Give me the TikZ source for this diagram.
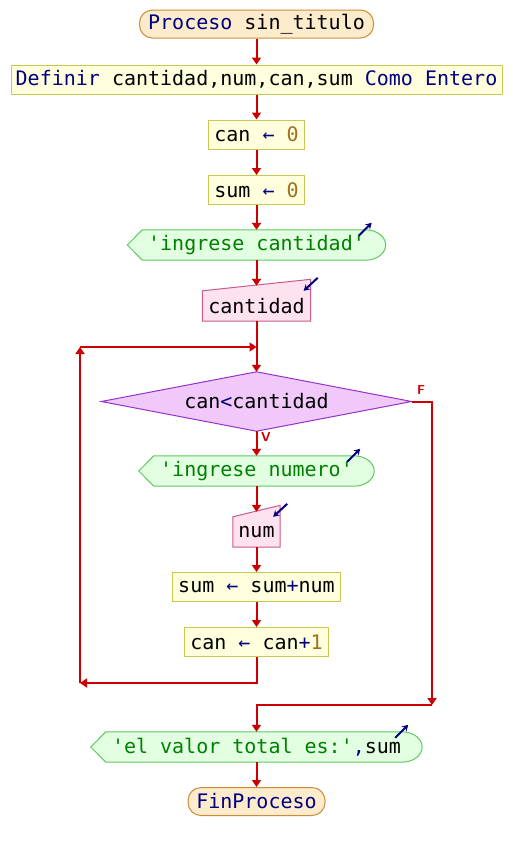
\documentclass[tikz,border=0pt]{standalone}
\usepackage{fontspec}
\setmonofont{DejaVu Sans Mono}
\usetikzlibrary{arrows.meta,backgrounds,calc}

\definecolor{flowred}{RGB}{204,0,0}
\definecolor{kwblue}{RGB}{0,0,128}
\definecolor{numbrown}{RGB}{160,112,32}
\definecolor{strgreen}{RGB}{0,128,0}
\definecolor{procfill}{RGB}{253,236,204}
\definecolor{procborder}{RGB}{204,140,60}
\definecolor{asgfill}{RGB}{255,255,221}
\definecolor{asgborder}{RGB}{200,200,80}
\definecolor{outfill}{RGB}{226,255,226}
\definecolor{outborder}{RGB}{96,200,96}
\definecolor{infill}{RGB}{255,226,240}
\definecolor{inborder}{RGB}{200,90,140}
\definecolor{condfill}{RGB}{240,200,250}
\definecolor{condborder}{RGB}{150,50,200}

\newcommand{\kw}[1]{\textcolor{kwblue}{#1}}
\newcommand{\nm}[1]{\textcolor{numbrown}{#1}}
\newcommand{\strtxt}[1]{\textcolor{strgreen}{#1}}
\newcommand{\sq}{\textquotesingle}
\newcommand{\asg}{\kw{←}}

\begin{document}
\begin{tikzpicture}[x=1pt,y=-1pt,>={Triangle[width=9pt,length=7pt]},
  font=\ttfamily\fontsize{20}{24}\selectfont,
  flow/.style={draw=flowred,line width=2pt},
  proc/.style={draw=procborder,fill=procfill,rounded corners=13pt,line width=1pt,minimum height=28pt,inner sep=0pt},
  assign/.style={draw=asgborder,fill=asgfill,line width=1pt,minimum height=29pt,inner sep=0pt},
  iobox/.style={inner sep=0pt,minimum height=30pt},
  outshape/.style={draw=outborder,fill=outfill,line width=1pt},
  inshape/.style={draw=inborder,fill=infill,line width=1pt},
  condshape/.style={draw=condborder,fill=condfill,line width=1pt},
  iomark/.style={draw=kwblue,line width=2pt,-{Stealth[length=6pt,width=7pt]}},
  flowlbl/.style={text=flowred,font=\sffamily\bfseries\fontsize{13}{15}\selectfont}]
  \useasboundingbox (0,0) rectangle (512,852);

  \node[proc,minimum width=234pt] (inicio) at (256.5,24) {\kw{Proceso} sin\_titulo};
  \node[assign,minimum width=491pt] (defs) at (256.5,79.5) {\kw{Definir} cantidad,num,can,sum \kw{Como Entero}};
  \node[assign,minimum width=96pt] (can0) at (256.5,134.5) {can \asg{} \nm{0}};
  \node[assign,minimum width=96pt] (sum0) at (256.5,190) {sum \asg{} \nm{0}};
  \node[iobox,minimum width=258pt] (msg1) at (256.5,245) {\strtxt{\sq ingrese cantidad\sq}};
  \node[iobox,minimum width=108pt] (leer1) at (256.5,306) {cantidad};
  \node[iobox,minimum width=310pt,minimum height=59pt] (cond) at (256.5,401.5) {can\kw{<}cantidad};
  \node[iobox,minimum width=235pt] (msg2) at (256.5,471) {\strtxt{\sq ingrese numero\sq}};
  \node[iobox,minimum width=47pt] (leer2) at (256.5,532) {num};
  \node[assign,minimum width=168pt] (sumupd) at (256.5,587) {sum \asg{} sum\kw{+}num};
  \node[assign,minimum width=144pt] (canupd) at (256.5,642) {can \asg{} can\kw{+}\nm{1}};
  \node[iobox,minimum width=331pt] (msg3) at (256.5,747) {\strtxt{\sq el valor total es:\sq}\kw{,}sum};
  \node[proc,minimum width=137pt] (fin) at (256.5,801.5) {\kw{FinProceso}};

  \begin{scope}[on background layer]
    \foreach \o in {msg1,msg2,msg3}
      \draw[outshape] (\o.west) -- ($(\o.north west)+(15,0)$) -- ($(\o.north east)+(-20,0)$)
        .. controls +(11,0) and +(0,-8.3) .. (\o.east)
        .. controls +(0,8.3) and +(11,0) .. ($(\o.south east)+(-20,0)$)
        -- ($(\o.south west)+(15,0)$) -- cycle;
    \foreach \i in {leer1,leer2}
      \draw[inshape] (\i.north west) -- ($(\i.north east)+(0,-11.5)$) -- (\i.south east) -- (\i.south west) -- cycle;
    \draw[condshape] (cond.north) -- (cond.east) -- (cond.south) -- (cond.west) -- cycle;
  \end{scope}

  \foreach \o in {msg1,msg2,msg3}
    \draw[iomark] ($(\o.north east)+(-27,6)$) -- ($(\o.north east)+(-14,-7)$);
  \foreach \i in {leer1,leer2}
    \draw[iomark] ($(\i.north east)+(7,-13)$) -- ($(\i.north east)+(-7,0)$);

  \coordinate (loopbl) at (80,683);
  \coordinate (looptl) at (80,347);
  \coordinate (loopjoin) at (cond.north |- looptl);
  \coordinate (fcorner) at (432,705);

  \draw[flow,->] (inicio) -- (defs);
  \draw[flow,->] (defs) -- (can0);
  \draw[flow,->] (can0) -- (sum0);
  \draw[flow,->] (sum0) -- (msg1);
  \draw[flow,->] (msg1.south) -- ($(leer1.north)+(0,-5)$);
  \draw[flow,->] (leer1.south) -- (cond.north);
  \draw[flow,->] (cond.south) -- (msg2.north);
  \draw[flow,->] (msg2.south) -- ($(leer2.north)+(0,-5)$);
  \draw[flow,->] (leer2) -- (sumupd);
  \draw[flow,->] (sumupd) -- (canupd);
  \draw[flow,->] (canupd.south) |- (loopbl);
  \draw[flow,->] (loopbl) -- (looptl);
  \draw[flow,->] (looptl) -- (loopjoin);
  \draw[flow,->] (cond.east) -| (fcorner);
  \draw[flow,->] (fcorner) -| (msg3.north);
  \draw[flow,->] (msg3) -- (fin);

  \node[flowlbl] (flab) at (421,390) {F};
  \node[flowlbl] (vlab) at (266,437) {V};
\end{tikzpicture}
\end{document}
